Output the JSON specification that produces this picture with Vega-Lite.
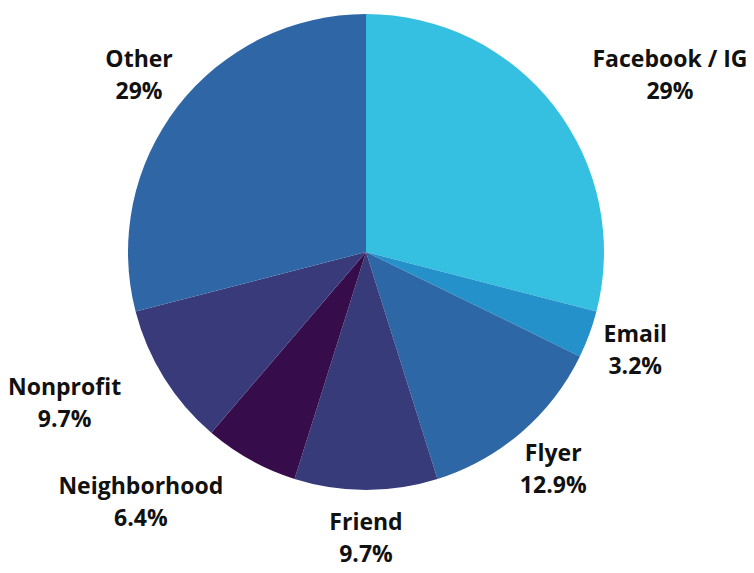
{
  "$schema": "https://vega.github.io/schema/vega-lite/v6.json",
  "width": 732,
  "height": 504,
  "autosize": {"type": "none"},
  "padding": {"left": 0, "top": 0, "right": 22, "bottom": 69},
  "background": "white",
  "view": {"stroke": null},
  "data": {
    "values": [
      {"i": 1, "source": "Facebook / IG", "share": 29, "pct": "29%", "lines": ["Facebook / IG", "29%"]},
      {"i": 2, "source": "Email", "share": 3.2, "pct": "3.2%", "lines": ["Email", "3.2%"]},
      {"i": 3, "source": "Flyer", "share": 12.9, "pct": "12.9%", "lines": ["Flyer", "12.9%"]},
      {"i": 4, "source": "Friend", "share": 9.7, "pct": "9.7%", "lines": ["Friend", "9.7%"]},
      {"i": 5, "source": "Neighborhood", "share": 6.4, "pct": "6.4%", "lines": ["Neighborhood", "6.4%"]},
      {"i": 6, "source": "Nonprofit", "share": 9.7, "pct": "9.7%", "lines": ["Nonprofit", "9.7%"]},
      {"i": 7, "source": "Other", "share": 29, "pct": "29%", "lines": ["Other", "29%"]}
    ]
  },
  "encoding": {
    "theta": {"field": "share", "type": "quantitative", "stack": true},
    "order": {"field": "i", "type": "quantitative"}
  },
  "layer": [
    {
      "mark": {"type": "arc", "outerRadius": 238},
      "encoding": {
        "color": {
          "field": "source",
          "type": "nominal",
          "scale": {
            "domain": ["Facebook / IG", "Email", "Flyer", "Friend", "Neighborhood", "Nonprofit", "Other"],
            "range": ["#35C0E2", "#2591CA", "#2E67A6", "#383B7A", "#360D4A", "#383A7A", "#2F67A6"]
          },
          "legend": null
        }
      }
    },
    {
      "mark": {"type": "text", "radius": 287, "dy": -16, "font": "Open Sans", "fontWeight": "bold", "fontSize": 23, "lineHeight": 32, "color": "#111111", "align": "center", "baseline": "middle"},
      "encoding": {"text": {"condition": {"test": "datum.source != 'Facebook / IG' && datum.source != 'Neighborhood' && datum.source != 'Nonprofit'", "field": "lines", "type": "nominal"}, "value": ""}}
    },
    {
      "mark": {"type": "text", "radius": 287, "dx": 77, "dy": -16, "font": "Open Sans", "fontWeight": "bold", "fontSize": 23, "lineHeight": 32, "color": "#111111", "align": "center", "baseline": "middle"},
      "encoding": {"text": {"condition": {"test": "datum.source == 'Facebook / IG'", "field": "lines", "type": "nominal"}, "value": ""}}
    },
    {
      "mark": {"type": "text", "radius": 287, "dx": -86, "dy": -16, "font": "Open Sans", "fontWeight": "bold", "fontSize": 23, "lineHeight": 32, "color": "#111111", "align": "center", "baseline": "middle"},
      "encoding": {"text": {"condition": {"test": "datum.source == 'Neighborhood'", "field": "lines", "type": "nominal"}, "value": ""}}
    },
    {
      "mark": {"type": "text", "radius": 287, "dx": -58, "dy": -16, "font": "Open Sans", "fontWeight": "bold", "fontSize": 23, "lineHeight": 32, "color": "#111111", "align": "center", "baseline": "middle"},
      "encoding": {"text": {"condition": {"test": "datum.source == 'Nonprofit'", "field": "lines", "type": "nominal"}, "value": ""}}
    }
  ]
}
